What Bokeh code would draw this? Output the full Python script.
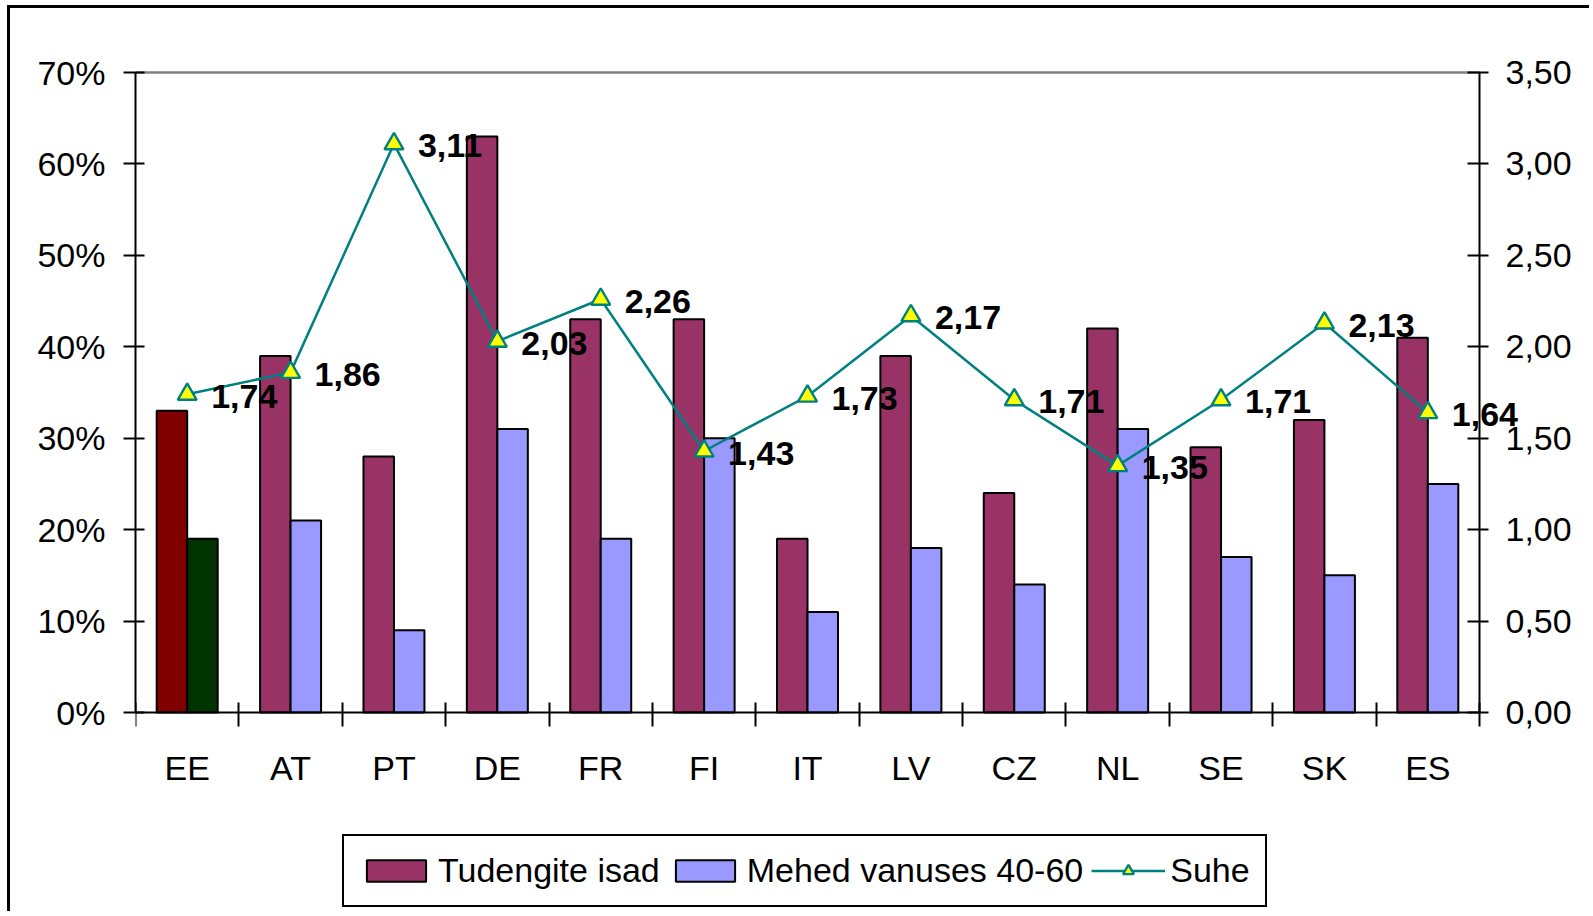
from bokeh.plotting import figure
from bokeh.models import (Range1d, LinearAxis, FixedTicker, CustomJSTickFormatter,
                          Legend, LegendItem, ColumnDataSource)
from bokeh.core.properties import value
from bokeh.embed import file_html
from bokeh.resources import INLINE

# ---- data ----
categories = ["EE", "AT", "PT", "DE", "FR", "FI", "IT", "LV", "CZ", "NL", "SE", "SK", "ES"]
tudengite_isad = [33, 39, 28, 63, 43, 43, 19, 39, 24, 42, 29, 32, 41]      # %
mehed_40_60 = [19, 21, 9, 31, 19, 30, 11, 18, 14, 31, 17, 15, 25]           # %
suhe = [1.74, 1.86, 3.11, 2.03, 2.26, 1.43, 1.73, 2.17, 1.71, 1.35, 1.71, 2.13, 1.64]
left_ticks = [0, 10, 20, 30, 40, 50, 60, 70]
right_ticks = [0, 0.5, 1.0, 1.5, 2.0, 2.5, 3.0, 3.5]

FONT = "Liberation Sans"
FS = "34px"
C_ISAD, C_MEHED = "#993366", "#9999FF"
C_EE_ISAD, C_EE_MEHED = "#800000", "#003300"
TEAL, YELLOW = "#008080", "#FFFF00"

# ---- layout (canvas pixels) ----
W, H = 1582, 906
AX_L, AX_R, AX_T, AX_B = 125, 1469, 64, 704   # left axis x, right axis x, 70% y, 0% y

n = len(categories)
y_top = left_ticks[-1]
r_top = right_ticks[-1]
px_per_y = (AX_B - AX_T) / y_top
x_end = n * (W - AX_L) / (AX_R - AX_L)
y_start = -(H - AX_B) / px_per_y
y_end = y_top + AX_T / px_per_y
r_scale = r_top / y_top

centers = [i + 0.5 for i in range(n)]
bar_w = 0.295
x_isad = [c - bar_w / 2 for c in centers]
x_mehed = [c + bar_w / 2 for c in centers]
fill_isad = [C_EE_ISAD if c == "EE" else C_ISAD for c in categories]
fill_mehed = [C_EE_MEHED if c == "EE" else C_MEHED for c in categories]
suhe_labels = [f"{v:.2f}".replace(".", ",") for v in suhe]

p = figure(width=W, height=H, output_backend="svg", toolbar_location=None,
           x_range=Range1d(0, x_end), y_range=Range1d(y_start, y_end),
           min_border_left=AX_L, min_border_right=0, min_border_top=0, min_border_bottom=0,
           styles={"margin-left": "7px", "margin-top": "5px",
                   "border-left": "3px solid black", "border-top": "3px solid black"})
p.grid.visible = False
p.outline_line_color = None
p.background_fill_color = "white"
p.border_fill_color = "white"

# top gray plot-area line at 70%, between the two axes
p.line(x=[0, n], y=[y_top, y_top], line_color="#808080", line_width=2.5)

# x axis (fixed at y=0)
xa = p.xaxis[0]
xa.fixed_location = 0
xa.bounds = (0, n)
xa.ticker = FixedTicker(ticks=centers, minor_ticks=list(range(n + 1)))
xa.major_label_overrides = {c: lab for c, lab in zip(centers, categories)}
xa.major_tick_line_color = None
xa.major_tick_in = 0
xa.major_tick_out = 0
xa.minor_tick_in = 10
xa.minor_tick_out = 14
xa.minor_tick_line_color = "black"
xa.minor_tick_line_width = 2
xa.axis_line_color = "black"
xa.axis_line_width = 2
xa.major_label_text_font = FONT
xa.major_label_text_font_size = FS
xa.major_label_text_color = "black"
xa.major_label_standoff = 22

# left axis
ya = p.yaxis[0]
ya.bounds = (0, y_top)
ya.ticker = FixedTicker(ticks=left_ticks)
ya.formatter = CustomJSTickFormatter(code="return Math.round(tick) + '%';")
ya.minor_tick_line_color = None
ya.major_tick_in = 9
ya.major_tick_out = 12
ya.major_tick_line_width = 2
ya.major_tick_line_color = "black"
ya.axis_line_width = 2
ya.axis_line_color = "black"
ya.major_label_text_font = FONT
ya.major_label_text_font_size = FS
ya.major_label_text_color = "black"
ya.major_label_standoff = 18

# right axis (fixed at the last category boundary)
p.extra_y_ranges = {"r": Range1d(y_start * r_scale, y_end * r_scale)}
ra = LinearAxis(y_range_name="r", ticker=FixedTicker(ticks=right_ticks),
                formatter=CustomJSTickFormatter(code="return tick.toFixed(2).replace('.', ',');"))
ra.fixed_location = n
ra.bounds = (0, r_top)
ra.minor_tick_line_color = None
ra.major_tick_in = 12
ra.major_tick_out = 9
ra.major_tick_line_width = 2
ra.major_tick_line_color = "black"
ra.axis_line_width = 2
ra.axis_line_color = "black"
ra.major_label_text_font = FONT
ra.major_label_text_font_size = FS
ra.major_label_text_color = "black"
ra.major_label_standoff = 17
p.add_layout(ra, "right")

src = ColumnDataSource(dict(x1=x_isad, x2=x_mehed, isad=tudengite_isad, mehed=mehed_40_60,
                            f1=fill_isad, f2=fill_mehed))
r_isad = p.vbar(x="x1", top="isad", width=bar_w, source=src, fill_color="f1",
                line_color="black", line_width=2)
r_mehed = p.vbar(x="x2", top="mehed", width=bar_w, source=src, fill_color="f2",
                 line_color="black", line_width=2)

lsrc = ColumnDataSource(dict(x=centers, y=suhe, lab=suhe_labels))
r_line = p.line(x="x", y="y", source=lsrc, y_range_name="r", line_color=TEAL, line_width=2.5)
r_pts = p.scatter(x="x", y="y", source=lsrc, y_range_name="r", marker="triangle", size=19,
                  fill_color=YELLOW, line_color=TEAL, line_width=2.4)
p.text(x="x", y="y", text="lab", source=lsrc, y_range_name="r", x_offset=24, y_offset=2,
       text_align="left", text_baseline="middle", text_font=value(FONT),
       text_font_style="bold", text_font_size=FS, text_color="black")

legend = Legend(items=[
    LegendItem(label="Tudengite isad", renderers=[r_isad], index=1),
    LegendItem(label="Mehed vanuses 40-60", renderers=[r_mehed], index=1),
    LegendItem(label="Suhe", renderers=[r_line, r_pts]),
], orientation="horizontal", location=(207, 7))
legend.glyph_width = 74
legend.glyph_height = 27
legend.label_standoff = 5
legend.spacing = 8
legend.padding = 15
legend.margin = 0
legend.border_line_color = "black"
legend.border_line_alpha = 1
legend.border_line_width = 2.5
legend.background_fill_color = "white"
legend.background_fill_alpha = 1
legend.label_text_font = FONT
legend.label_text_font_size = FS
legend.label_text_color = "black"
p.add_layout(legend, "center")

open("out.html", "w").write(file_html(p, INLINE))
